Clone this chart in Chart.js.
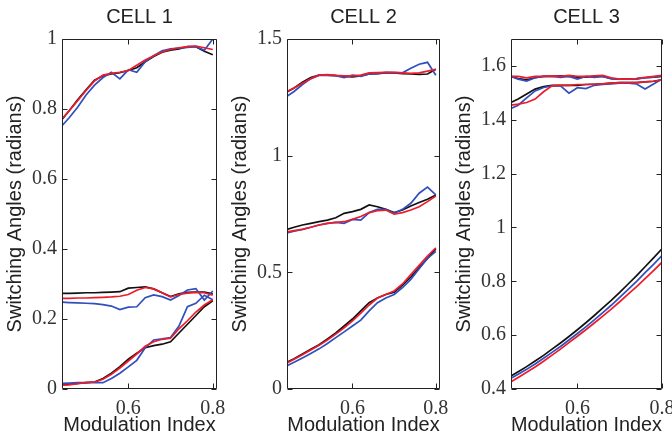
<!DOCTYPE html>
<html>
<head>
<meta charset="utf-8">
<script src="https://cdn.jsdelivr.net/npm/chart.js@4.4.1/dist/chart.umd.min.js"></script>
<style>
  html, body { margin: 0; padding: 0; background: #fff; }
  #wrap { position: relative; width: 672px; height: 439px; }
  #wrap canvas { position: absolute; left: 0; top: 0; }
</style>
</head>
<body>
<div id="wrap">
  <canvas id="cell1" width="672" height="439"></canvas>
  <canvas id="cell2" width="672" height="439"></canvas>
  <canvas id="cell3" width="672" height="439"></canvas>
</div>
<script>
// modulation index samples (shared by all curves)
var modIndex = [0.443, 0.46, 0.48, 0.50, 0.52, 0.54, 0.56, 0.58, 0.60, 0.62,
                0.64, 0.66, 0.68, 0.70, 0.72, 0.74, 0.76, 0.78, 0.80];

var xTickVals = [0.6, 0.8];
var c1YTicks = [0, 0.2, 0.4, 0.6, 0.8, 1];
var c2YTicks = [0, 0.5, 1, 1.5];
var c3YTicks = [0.4, 0.6, 0.8, 1, 1.2, 1.4, 1.6];
var cellTitles = ['CELL 1', 'CELL 2', 'CELL 3'];
var yTitle = 'Switching Angles (radians)';
var xTitle = 'Modulation Index';

// CELL 1
var c1TopBlack = [0.77, 0.795, 0.826, 0.855, 0.882, 0.895, 0.9, 0.904, 0.91, 0.918, 0.935, 0.95, 0.962, 0.968, 0.972, 0.978, 0.978, 0.965, 0.955];
var c1TopBlue  = [0.752, 0.775, 0.805, 0.84, 0.868, 0.89, 0.905, 0.886, 0.912, 0.905, 0.935, 0.952, 0.966, 0.972, 0.974, 0.976, 0.978, 0.968, 1.0];
var c1TopRed   = [0.772, 0.795, 0.824, 0.853, 0.88, 0.897, 0.902, 0.905, 0.91, 0.925, 0.94, 0.952, 0.963, 0.97, 0.975, 0.978, 0.98, 0.975, 0.97];
var c1MidBlack = [0.273, 0.273, 0.274, 0.275, 0.275, 0.276, 0.277, 0.278, 0.288, 0.29, 0.292, 0.286, 0.275, 0.264, 0.272, 0.276, 0.277, 0.277, 0.272];
var c1MidBlue  = [0.248, 0.247, 0.246, 0.245, 0.244, 0.241, 0.237, 0.227, 0.234, 0.235, 0.261, 0.269, 0.264, 0.254, 0.267, 0.283, 0.287, 0.254, 0.28];
var c1MidRed   = [0.259, 0.259, 0.26, 0.26, 0.261, 0.262, 0.263, 0.265, 0.27, 0.282, 0.29, 0.286, 0.275, 0.263, 0.27, 0.274, 0.276, 0.275, 0.268];
var c1LowBlack = [0.013, 0.014, 0.016, 0.018, 0.02, 0.03, 0.045, 0.064, 0.085, 0.102, 0.118, 0.124, 0.128, 0.135, 0.16, 0.185, 0.21, 0.235, 0.252];
var c1LowBlue  = [0.016, 0.017, 0.018, 0.018, 0.018, 0.018, 0.03, 0.045, 0.063, 0.082, 0.118, 0.14, 0.143, 0.147, 0.18, 0.235, 0.245, 0.268, 0.255];
var c1LowRed   = [0.011, 0.012, 0.015, 0.018, 0.02, 0.028, 0.042, 0.06, 0.08, 0.1, 0.122, 0.135, 0.142, 0.145, 0.172, 0.195, 0.22, 0.24, 0.255];

// CELL 2
var c2TopBlack = [1.273, 1.29, 1.315, 1.335, 1.345, 1.345, 1.343, 1.34, 1.338, 1.342, 1.35, 1.352, 1.355, 1.355, 1.352, 1.35, 1.348, 1.35, 1.37];
var c2TopBlue  = [1.255, 1.275, 1.305, 1.33, 1.345, 1.344, 1.343, 1.335, 1.345, 1.34, 1.35, 1.352, 1.357, 1.356, 1.355, 1.375, 1.392, 1.4, 1.345];
var c2TopRed   = [1.275, 1.29, 1.31, 1.33, 1.345, 1.347, 1.344, 1.342, 1.342, 1.345, 1.355, 1.356, 1.357, 1.357, 1.355, 1.353, 1.355, 1.362, 1.37];
var c2MidBlack = [0.684, 0.693, 0.703, 0.71, 0.717, 0.724, 0.734, 0.753, 0.76, 0.77, 0.789, 0.781, 0.77, 0.756, 0.767, 0.784, 0.799, 0.813, 0.831];
var c2MidBlue  = [0.669, 0.676, 0.684, 0.693, 0.703, 0.71, 0.714, 0.71, 0.727, 0.724, 0.756, 0.77, 0.77, 0.753, 0.77, 0.796, 0.839, 0.865, 0.832];
var c2MidRed   = [0.673, 0.679, 0.684, 0.693, 0.703, 0.71, 0.714, 0.717, 0.727, 0.739, 0.756, 0.764, 0.767, 0.749, 0.756, 0.767, 0.781, 0.803, 0.827];
var c2LowBlack = [0.115, 0.13, 0.15, 0.17, 0.19, 0.215, 0.24, 0.27, 0.3, 0.335, 0.37, 0.39, 0.405, 0.415, 0.445, 0.48, 0.52, 0.56, 0.6];
var c2LowBlue  = [0.1, 0.115, 0.133, 0.152, 0.172, 0.195, 0.22, 0.245, 0.27, 0.295, 0.335, 0.37, 0.39, 0.405, 0.435, 0.47, 0.515, 0.56, 0.59];
var c2LowRed   = [0.112, 0.127, 0.147, 0.167, 0.187, 0.21, 0.235, 0.262, 0.292, 0.325, 0.36, 0.39, 0.405, 0.42, 0.45, 0.49, 0.53, 0.57, 0.605];

// CELL 3
var c3TopBlack = [1.561, 1.553, 1.548, 1.556, 1.561, 1.561, 1.563, 1.561, 1.558, 1.558, 1.561, 1.561, 1.553, 1.551, 1.551, 1.553, 1.556, 1.558, 1.561];
var c3TopBlue  = [1.561, 1.551, 1.544, 1.556, 1.561, 1.561, 1.557, 1.561, 1.551, 1.561, 1.557, 1.561, 1.553, 1.551, 1.551, 1.551, 1.556, 1.558, 1.563];
var c3TopRed   = [1.561, 1.561, 1.556, 1.561, 1.561, 1.563, 1.561, 1.565, 1.561, 1.561, 1.563, 1.565, 1.556, 1.551, 1.551, 1.553, 1.558, 1.561, 1.565];
var c3MidBlack = [1.464, 1.477, 1.496, 1.514, 1.523, 1.528, 1.528, 1.528, 1.528, 1.531, 1.532, 1.533, 1.536, 1.538, 1.538, 1.538, 1.541, 1.543, 1.548];
var c3MidBlue  = [1.442, 1.454, 1.481, 1.507, 1.52, 1.526, 1.526, 1.499, 1.519, 1.516, 1.528, 1.531, 1.533, 1.536, 1.536, 1.533, 1.514, 1.533, 1.551];
var c3MidRed   = [1.454, 1.458, 1.464, 1.477, 1.504, 1.526, 1.528, 1.528, 1.531, 1.531, 1.532, 1.533, 1.536, 1.538, 1.538, 1.538, 1.541, 1.543, 1.548];
var c3LowBlack = [0.448, 0.464, 0.483, 0.504, 0.525, 0.548, 0.571, 0.595, 0.62, 0.646, 0.673, 0.701, 0.729, 0.759, 0.79, 0.821, 0.854, 0.887, 0.921];
var c3LowBlue  = [0.44, 0.455, 0.473, 0.493, 0.514, 0.536, 0.558, 0.582, 0.606, 0.631, 0.657, 0.684, 0.711, 0.74, 0.77, 0.8, 0.832, 0.863, 0.896];
var c3LowRed   = [0.427, 0.443, 0.462, 0.482, 0.503, 0.526, 0.548, 0.572, 0.596, 0.62, 0.645, 0.671, 0.697, 0.724, 0.752, 0.78, 0.81, 0.84, 0.871];

var BLACK = '#111111';
var BLUE = '#2f4fbd';
var RED = '#ee1b2b';

function line(vals, color, order) {
    return {
        data: vals,
        order: order,
        borderColor: color,
        backgroundColor: 'transparent',
        borderWidth: 1.7,
        pointRadius: 0,
        tension: 0,
        fill: false
    };
}

// MATLAB style box with inward ticks on all four sides
var boxPlugin = {
    id: 'box',
    afterDraw: function (chart) {
        var ctx = chart.ctx;
        var a = chart.chartArea;
        var xs = chart.scales.x, ys = chart.scales.y;
        var L = Math.round(a.left) + 0.5, R = Math.round(a.right) - 0.5;
        var T = Math.round(a.top) + 0.5, B = Math.round(a.bottom) - 0.5;
        ctx.save();
        ctx.strokeStyle = '#222';
        ctx.lineWidth = 1;
        ctx.beginPath();
        ctx.rect(L, T, R - L, B - T);
        xs.ticks.forEach(function (t) {
            var px = Math.round(xs.getPixelForValue(t.value)) + 0.5;
            ctx.moveTo(px, B); ctx.lineTo(px, B - 5);
            ctx.moveTo(px, T); ctx.lineTo(px, T + 5);
        });
        ys.ticks.forEach(function (t) {
            var py = Math.round(ys.getPixelForValue(t.value)) + 0.5;
            ctx.moveTo(L, py); ctx.lineTo(L + 5, py);
            ctx.moveTo(R, py); ctx.lineTo(R - 5, py);
        });
        ctx.stroke();
        ctx.restore();
    }
};

function makeCell(id, title, padLeft, padRight, xMax, yMin, yMax, yTicks, groups) {
    var datasets = [];
    // higher order is drawn first: black underneath, red on top
    groups.forEach(function (g) {
        datasets.push(line(g[0], BLACK, 3));
        datasets.push(line(g[1], BLUE, 2));
        datasets.push(line(g[2], RED, 1));
    });
    return new Chart(document.getElementById(id).getContext('2d'), {
        type: 'line',
        data: { labels: modIndex, datasets: datasets },
        options: {
            responsive: false,
            animation: false,
            devicePixelRatio: 1,
            events: [],
            layout: { padding: { left: padLeft, right: padRight, top: 0, bottom: 0 } },
            plugins: {
                legend: { display: false },
                tooltip: { enabled: false },
                title: {
                    display: true,
                    text: title,
                    fullSize: false,
                    color: '#222',
                    font: { family: 'Liberation Sans', size: 20, weight: 'normal' },
                    padding: { top: 5, bottom: 10 }
                }
            },
            scales: {
                x: {
                    type: 'linear',
                    min: 0.443,
                    max: xMax,
                    grid: { display: false, drawTicks: false },
                    border: { display: false },
                    afterBuildTicks: function (s) { s.ticks = xTickVals.map(function (v) { return { value: v }; }); },
                    afterFit: function (s) { s.height = 50; s.paddingLeft = 0; s.paddingRight = 0; },
                    ticks: {
                        padding: 8,
                        color: '#333',
                        font: { family: 'Liberation Serif', size: 20 },
                        maxRotation: 0,
                        callback: function (v) { return String(+v.toFixed(2)); }
                    },
                    title: {
                        display: true,
                        text: xTitle,
                        color: '#222',
                        font: { family: 'Liberation Sans', size: 20 },
                        padding: { top: 0, bottom: 2 }
                    }
                },
                y: {
                    min: yMin,
                    max: yMax,
                    grid: { display: false, drawTicks: false },
                    border: { display: false },
                    afterBuildTicks: function (s) { s.ticks = yTicks.map(function (v) { return { value: v }; }); },
                    afterFit: function (s) { s.width = 62; s.paddingTop = 0; s.paddingBottom = 0; },
                    ticks: {
                        padding: 5,
                        color: '#333',
                        font: { family: 'Liberation Serif', size: 20 },
                        callback: function (v) { return String(+v.toFixed(2)); }
                    },
                    title: {
                        display: true,
                        text: yTitle,
                        color: '#222',
                        font: { family: 'Liberation Sans', size: 20 },
                        padding: { top: 3, bottom: 0 }
                    }
                }
            }
        },
        plugins: [boxPlugin]
    });
}

makeCell('cell1', cellTitles[0], 0, 455, 0.81, 0, 1, c1YTicks,
    [[c1TopBlack, c1TopBlue, c1TopRed], [c1MidBlack, c1MidBlue, c1MidRed], [c1LowBlack, c1LowBlue, c1LowRed]]);
makeCell('cell2', cellTitles[1], 225, 232, 0.81, 0, 1.5, c2YTicks,
    [[c2TopBlack, c2TopBlue, c2TopRed], [c2MidBlack, c2MidBlue, c2MidRed], [c2LowBlack, c2LowBlue, c2LowRed]]);
makeCell('cell3', cellTitles[2], 449, 10, 0.80, 0.4, 1.7, c3YTicks,
    [[c3TopBlack, c3TopBlue, c3TopRed], [c3MidBlack, c3MidBlue, c3MidRed], [c3LowBlack, c3LowBlue, c3LowRed]]);
</script>
</body>
</html>
